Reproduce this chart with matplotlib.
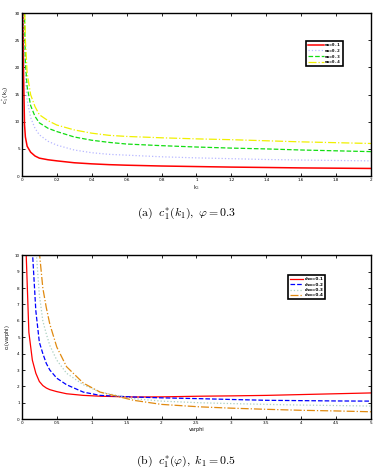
import numpy as np
import matplotlib.pyplot as plt

# data (a): c1*(k1), varphi = 0.3
k1 = [0.006, 0.01, 0.015, 0.02, 0.03, 0.05, 0.075, 0.1, 0.15, 0.2, 0.3, 0.4,
      0.5, 0.6, 0.8, 1.0, 1.2, 1.4, 1.6, 1.8, 2.0]
mu_labels = ['mu=0.1', 'mu=0.2', 'mu=0.3', 'mu=0.4']
c_mu1 = [30, 18, 9.5, 7.2, 5.5, 4.4, 3.7, 3.3, 3.0, 2.8, 2.45, 2.25,
         2.1, 2.0, 1.85, 1.75, 1.65, 1.58, 1.5, 1.45, 1.4]
c_mu2 = [40, 30, 22, 18, 14, 10.8, 8.8, 7.6, 6.4, 5.7, 4.8, 4.3,
         4.0, 3.85, 3.55, 3.35, 3.2, 3.05, 2.95, 2.87, 2.8]
c_mu3 = [50, 40, 30, 21, 16.5, 13.0, 11.0, 9.8, 8.8, 8.2, 7.2, 6.6,
         6.2, 5.9, 5.6, 5.35, 5.15, 5.0, 4.8, 4.65, 4.5]
c_mu4 = [60, 45, 32, 25, 19, 15.0, 12.8, 11.3, 10.2, 9.4, 8.5, 7.9,
         7.5, 7.3, 7.05, 6.85, 6.7, 6.5, 6.3, 6.15, 6.0]

# data (b): c1*(varphi), k1 = 0.5
phi = [0.05, 0.1, 0.15, 0.2, 0.25, 0.3, 0.35, 0.4, 0.5, 0.64, 0.88, 1.12,
       1.6, 2.0, 2.55, 3.0, 3.5, 4.0, 4.5, 5.0]
rho_labels = ['rho=0.1', 'rho=0.2', 'rho=0.3', 'rho=0.4']
c_rho1 = [11.5, 5.3, 3.6, 2.8, 2.3, 2.05, 1.9, 1.8, 1.68, 1.55, 1.45, 1.4,
          1.35, 1.36, 1.4, 1.42, 1.45, 1.5, 1.55, 1.6]
c_rho2 = [30, 20, 10.3, 6.6, 4.7, 4.0, 3.4, 3.0, 2.5, 2.1, 1.65, 1.45,
          1.35, 1.3, 1.25, 1.2, 1.15, 1.13, 1.11, 1.1]
c_rho3 = [40, 30, 20, 10.5, 7.6, 6.0, 5.2, 4.5, 3.6, 2.8, 2.1, 1.65,
          1.25, 1.1, 1.0, 0.95, 0.9, 0.86, 0.83, 0.8]
c_rho4 = [50, 40, 25, 14, 10.2, 8.0, 6.8, 5.8, 4.4, 3.2, 2.2, 1.65,
          1.15, 0.9, 0.75, 0.67, 0.6, 0.54, 0.5, 0.45]

plt.rcParams['mathtext.fontset'] = 'cm'


def style_axes(ax):
    ax.tick_params(direction='in', top=True, right=True, length=2.5,
                   width=0.6, labelsize=3, pad=1.5)
    for s in ax.spines.values():
        s.set_linewidth(1.0)


fig = plt.figure(figsize=(3.84, 4.72), dpi=100)

# panel (a)
ax1 = fig.add_axes([0.057, 0.627, 0.909, 0.345])
ax1.plot(k1, c_mu1, color='red', lw=1.1, ls='-', label=mu_labels[0])
ax1.plot(k1, c_mu2, color='#b8b8ff', lw=0.9, ls=':', label=mu_labels[1])
ax1.plot(k1, c_mu3, color='#11dd11', lw=0.9, ls='--', label=mu_labels[2])
ax1.plot(k1, c_mu4, color='#f0f000', lw=0.9, ls='-.', label=mu_labels[3])
ax1.set_xlim(0, 2)
ax1.set_ylim(0, 30)
ax1.set_xticks(np.arange(0, 2.01, 0.2))
ax1.set_xticklabels(['0', '0.2', '0.4', '0.6', '0.8', '1', '1.2', '1.4', '1.6', '1.8', '2'])
ax1.set_yticks(np.arange(0, 31, 5))
ax1.set_xlabel('k$_1$', fontsize=3.5, labelpad=1)
ax1.set_ylabel('c$_1^*$(k$_1$)', fontsize=4, labelpad=2)
style_axes(ax1)
leg1 = ax1.legend(loc='upper right', bbox_to_anchor=(0.925, 0.84),
                  prop={'family': 'DejaVu Sans Mono', 'size': 3.2, 'weight': 'bold'},
                  handlelength=3.5, fancybox=False, framealpha=1, borderpad=0.4,
                  labelspacing=0.35, handletextpad=0.3)
leg1.get_frame().set_edgecolor('black')
leg1.get_frame().set_linewidth(1.2)

fig.text(0.485, 1 - 213 / 472, r'$\mathrm{(a)}\ \ c_1^{*}(k_1),\ \varphi = 0.3$',
         ha='center', va='center', fontsize=8.5)

# panel (b)
ax2 = fig.add_axes([0.057, 0.112, 0.909, 0.347])
ax2.plot(phi, c_rho1, color='red', lw=0.9, ls='-', label=rho_labels[0])
ax2.plot(phi, c_rho2, color='blue', lw=0.9, ls='--', label=rho_labels[1])
ax2.plot(phi, c_rho3, color='#aacfc0', lw=0.9, ls=':', label=rho_labels[2])
ax2.plot(phi, c_rho4, color='#e08a10', lw=0.9, ls='-.', label=rho_labels[3])
ax2.set_xlim(0, 5)
ax2.set_ylim(0, 10)
ax2.set_xticks(np.arange(0, 5.01, 0.5))
ax2.set_xticklabels(['0', '0.5', '1', '1.5', '2', '2.5', '3', '3.5', '4', '4.5', '5'])
ax2.set_yticks(np.arange(0, 11, 1))
ax2.set_xlabel('varphi', fontsize=3.5, labelpad=1)
ax2.set_ylabel('c$_1$(varphi)', fontsize=3.5, labelpad=2)
style_axes(ax2)
leg2 = ax2.legend(loc='upper right', bbox_to_anchor=(0.875, 0.89),
                  prop={'size': 3, 'weight': 'bold'},
                  handlelength=3.2, fancybox=False, framealpha=1, borderpad=0.4,
                  labelspacing=0.35, handletextpad=0.3)
leg2.get_frame().set_edgecolor('black')
leg2.get_frame().set_linewidth(1.2)

fig.text(0.485, 1 - 461 / 472, r'$\mathrm{(b)}\ \ c_1^{*}(\varphi),\ k_1 = 0.5$',
         ha='center', va='center', fontsize=8.5)

fig.savefig('out.png', dpi=100)
